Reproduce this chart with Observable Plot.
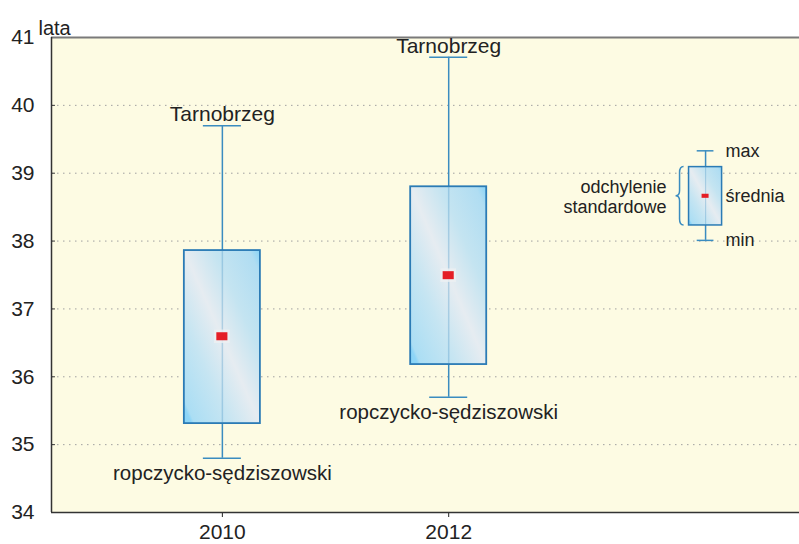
<!DOCTYPE html>
<html>
<head>
<meta charset="utf-8">
<script src="https://cdn.jsdelivr.net/npm/d3@7"></script>
<script src="https://cdn.jsdelivr.net/npm/@observablehq/plot@0.6"></script>
<style>
  html, body { margin: 0; padding: 0; background: #ffffff; }
  #chart svg { display: block; }
</style>
</head>
<body>
<div id="chart"></div>
<script>
// ---- data ----
const years = [2010, 2012];
const minVal = [34.80, 35.70];
const maxVal = [39.70, 40.71];
const sdLow = [35.31, 36.18];
const sdHigh = [37.86, 38.80];
const meanVal = [36.59, 37.49];
const maxRegion = ["Tarnobrzeg", "Tarnobrzeg"];
const minRegion = ["ropczycko-sędziszowski", "ropczycko-sędziszowski"];
const yTicks = [34, 35, 36, 37, 38, 39, 40, 41];
const xTicks = [2010, 2012];
const yLabel = "lata";

// legend key (sample box)
const keyX = [2014.27];
const keyMin = [38.01];
const keyLow = [38.23];
const keyMean = [38.66];
const keyHigh = [39.09];
const keyMax = [39.33];
const keyRightLabels = ["max", "średnia", "min"];
const keySdLabel = ["odchylenie", "standardowe"];

// ---- tables ----
const boxes = years.map((y, i) => ({
  year: y, min: minVal[i], max: maxVal[i], lo: sdLow[i], hi: sdHigh[i], mean: meanVal[i],
  maxName: maxRegion[i], minName: minRegion[i]
}));
const key = keyX.map((x, i) => ({year: x, min: keyMin[i], max: keyMax[i], lo: keyLow[i], hi: keyHigh[i], mean: keyMean[i]}));
const keyRight = [
  {year: keyX[0], v: keyMax[0], t: keyRightLabels[0]},
  {year: keyX[0], v: keyMean[0], t: keyRightLabels[1]},
  {year: keyX[0], v: keyMin[0], t: keyRightLabels[2]}
];
const keyLeft = [{year: keyX[0], v: (keyLow[0] + keyHigh[0]) / 2, t: keySdLabel.join("\n")}];

const xDomain = [2008.49, 2015.1];
const hb = 0.336, hc = 0.168, hmx = 0.049, hmy = 0.059;   // box / cap / marker half sizes
const khb = 0.146, khc = 0.074, kmx = 0.031, kmy = 0.03;

const FONT = "'Liberation Sans', Arial, Helvetica, sans-serif";
const WHISK = "#3a8cc0", BOXSTROKE = "#2b7bb5", RED = "#e41e26";

// gradient defs
function defs() {
  const d = d3.create("svg:defs");
  const g = d.append("linearGradient").attr("id", "boxgrad")
    .attr("x1", "1").attr("y1", "0").attr("x2", "0").attr("y2", "1");
  [[0, "#88d4f7"], [0.07, "#b0ddf2"], [0.3, "#c4e4f1"], [0.5, "#e6ecf1"], [0.7, "#c6e5f2"], [0.93, "#abdef4"], [0.95, "#8ed5f7"], [1, "#88d4f7"]]
    .forEach(([o, c]) => g.append("stop").attr("offset", o).attr("stop-color", c));
  return d.node();
}

// brace for the legend key
function brace(index, scales) {
  const x = scales.x, y = scales.y;
  const xr = x(keyX[0] - khb) - 5;   // right end of brace
  const xl = xr - 8;                  // tip
  const yt = y(keyHigh[0]), yb = y(keyLow[0]), ym = (yt + yb) / 2;
  const xm = xr - 4;
  const p = `M${xr},${yt} Q${xm},${yt} ${xm},${yt + 6} L${xm},${ym - 5} Q${xm},${ym} ${xl},${ym} Q${xm},${ym} ${xm},${ym + 5} L${xm},${yb - 6} Q${xm},${yb} ${xr},${yb}`;
  return d3.create("svg:path").attr("d", p).attr("fill", "none")
    .attr("stroke", WHISK).attr("stroke-width", 1.5).node();
}

const chart = Plot.plot({
  width: 799,
  height: 544,
  marginLeft: 51,
  marginRight: 0,
  marginTop: 37,
  marginBottom: 32,
  style: {fontFamily: FONT, background: "#ffffff"},
  x: {domain: xDomain},
  y: {domain: [34, 41]},
  marks: [
    defs,
    Plot.frame({fill: "#fdfbe3", stroke: null}),
    Plot.gridY(yTicks.slice(1, -1), {stroke: "#a0a0a0", strokeOpacity: 1, strokeDasharray: "1.5,4.5", strokeWidth: 1}),
    Plot.ruleY([41], {stroke: "#7a7a7a", strokeWidth: 2}),
    Plot.ruleY(yTicks.slice(1, -1), {x1: xDomain[0], x2: xDomain[0] + 0.035, stroke: "#333", strokeWidth: 1}),
    Plot.axisY(yTicks, {tickSize: 0, tickPadding: 17, fontSize: 21, color: "#222", label: null, tickFormat: d => String(d)}),
    Plot.axisX(xTicks, {tickSize: 5, tickPadding: 7, fontSize: 21, color: "#222", label: null, tickFormat: d => String(d)}),
    Plot.ruleX([xDomain[0]], {stroke: "#333", strokeWidth: 1.5}),
    Plot.ruleY([34], {stroke: "#333", strokeWidth: 1.5}),
    Plot.text([{t: yLabel}], {text: "t", frameAnchor: "top-left", dx: -13, dy: -17, textAnchor: "start", fontSize: 20, fill: "#222"}),

    // main boxes
    Plot.ruleX(boxes, {x: "year", y1: "min", y2: "max", stroke: WHISK, strokeWidth: 1.5}),
    Plot.ruleY(boxes, {y: "max", x1: d => d.year - hc, x2: d => d.year + hc, stroke: WHISK, strokeWidth: 1.5}),
    Plot.ruleY(boxes, {y: "min", x1: d => d.year - hc, x2: d => d.year + hc, stroke: WHISK, strokeWidth: 1.5}),
    Plot.rect(boxes, {x1: d => d.year - hb, x2: d => d.year + hb, y1: "lo", y2: "hi", fill: "url(#boxgrad)", stroke: BOXSTROKE, strokeWidth: 1.8}),
    Plot.ruleX(boxes, {x: "year", y1: "lo", y2: "hi", stroke: WHISK, strokeWidth: 1.5, strokeOpacity: 0.3}),
    Plot.rect(boxes, {x1: d => d.year - hmx - 0.02, x2: d => d.year + hmx + 0.02, y1: d => d.mean - hmy - 0.04, y2: d => d.mean + hmy + 0.04, fill: "#eef0f2", fillOpacity: 0.8}),
    Plot.rect(boxes, {x1: d => d.year - hmx, x2: d => d.year + hmx, y1: d => d.mean - hmy, y2: d => d.mean + hmy, fill: RED}),
    Plot.text(boxes, {x: "year", y: "max", text: "maxName", dy: -11, fontSize: 21, fill: "#222"}),
    Plot.text(boxes, {x: "year", y: "min", text: "minName", dy: 15, fontSize: 20.5, fill: "#222"}),

    // legend key
    Plot.ruleX(key, {x: "year", y1: "min", y2: "max", stroke: WHISK, strokeWidth: 1.5}),
    Plot.ruleY(key, {y: "max", x1: d => d.year - khc, x2: d => d.year + khc, stroke: WHISK, strokeWidth: 1.5}),
    Plot.ruleY(key, {y: "min", x1: d => d.year - khc, x2: d => d.year + khc, stroke: WHISK, strokeWidth: 1.5}),
    Plot.rect(key, {x1: d => d.year - khb, x2: d => d.year + khb, y1: "lo", y2: "hi", fill: "url(#boxgrad)", stroke: BOXSTROKE, strokeWidth: 1.5}),
    Plot.ruleX(key, {x: "year", y1: "lo", y2: "hi", stroke: WHISK, strokeWidth: 1.2, strokeOpacity: 0.3}),
    Plot.rect(key, {x1: d => d.year - kmx, x2: d => d.year + kmx, y1: d => d.mean - kmy, y2: d => d.mean + kmy, fill: RED}),
    brace,
    Plot.text(keyRight, {x: "year", y: "v", text: "t", dx: 20, textAnchor: "start", fontSize: 18, fill: "#222"}),
    Plot.text(keyLeft, {x: "year", y: "v", text: "t", dx: -39, textAnchor: "end", fontSize: 18, lineHeight: 1.15, fill: "#222"})
  ]
});
document.getElementById("chart").appendChild(chart);
</script>
</body>
</html>
